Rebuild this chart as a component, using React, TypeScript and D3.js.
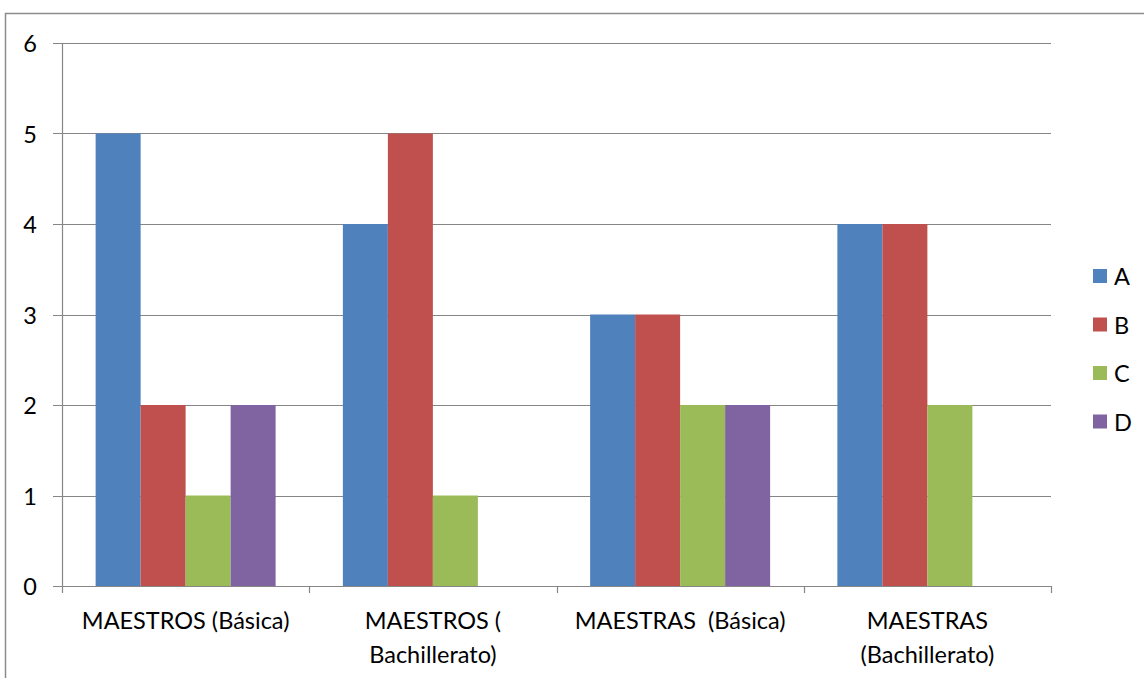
import React from "react";
import * as d3 from "d3";

const categories: string[][] = [
  ["MAESTROS (Básica)"],
  ["MAESTROS (", "Bachillerato)"],
  ["MAESTRAS  (Básica)"],
  ["MAESTRAS", "(Bachillerato)"],
];
const seriesNames = ["A", "B", "C", "D"];
const seriesA = [5, 4, 3, 4];
const seriesB = [2, 5, 3, 4];
const seriesC = [1, 1, 2, 2];
const seriesD = [2, 0, 2, 0];
const colors = ["#4F81BD", "#C0504D", "#9BBB59", "#8064A2"];
const yTicks = [0, 1, 2, 3, 4, 5, 6];

const font = "Lato, 'Open Sans', sans-serif";
const fs = 23.5;

export default function App() {
  const W = 1144, H = 678;
  const left = 62, right = 1051, top = 43, bottom = 586;
  const series = [seriesA, seriesB, seriesC, seriesD];
  const x0 = d3.scaleBand<number>().domain(categories.map((_, i) => i)).range([left, right]).paddingInner(0).paddingOuter(0);
  const groupW = 180;
  const x1 = d3.scaleBand<number>().domain(seriesNames.map((_, i) => i)).range([0, groupW]);
  const y = d3.scaleLinear().domain([0, 6]).range([bottom, top]);
  const grid = "#868686";
  const bw = x0.bandwidth();
  return (
    <svg width={W} height={H} style={{ position: "absolute", left: 0, top: 0 }}>
      <rect x={0} y={0} width={W} height={H} fill="#fff" />
      <rect x={5.5} y={13.5} width={W + 20} height={H + 20} fill="none" stroke="#8c8c8c" strokeWidth={1.5} />
      {yTicks.map((t) => (
        <g key={t}>
          <line x1={53} x2={right} y1={Math.round(y(t)) + 0.5} y2={Math.round(y(t)) + 0.5} stroke={grid} strokeWidth={1.2} />
          <text x={37} y={y(t)} textAnchor="end" dominantBaseline="central" fontFamily={font} fontSize={fs} fill="#000">{t}</text>
        </g>
      ))}
      <line x1={left + 0.5} x2={left + 0.5} y1={top} y2={bottom + 7} stroke={grid} strokeWidth={1.2} />
      {categories.map((_, i) => (
        <line key={i} x1={Math.round(x0(i)! + bw) + 0.5} x2={Math.round(x0(i)! + bw) + 0.5} y1={bottom} y2={bottom + 7} stroke={grid} strokeWidth={1.2} />
      ))}
      {categories.map((_, ci) => {
        const gx = x0(ci)! + (bw - groupW) / 2;
        return (
          <g key={ci}>
            {series.map((s, si) =>
              s[ci] > 0 ? (
                <rect key={si} x={gx + x1(si)!} y={y(s[ci])} width={x1.bandwidth()} height={y(0) - y(s[ci])} fill={colors[si]} />
              ) : null
            )}
          </g>
        );
      })}
      {categories.map((lines, ci) => (
        <text key={ci} textAnchor="middle" fontFamily={font} fontSize={fs} fill="#000">
          {lines.map((l, li) => (
            <tspan key={li} x={x0(ci)! + bw / 2} y={629 + li * 34} style={{ whiteSpace: "pre" }}>{l}</tspan>
          ))}
        </text>
      ))}
      {seriesNames.map((n, i) => (
        <g key={n}>
          <rect x={1093} y={269 + i * 48.5} width={14} height={14} fill={colors[i]} />
          <text x={1114} y={276 + i * 48.5} dominantBaseline="central" fontFamily={font} fontSize={fs} fill="#000">{n}</text>
        </g>
      ))}
    </svg>
  );
}
